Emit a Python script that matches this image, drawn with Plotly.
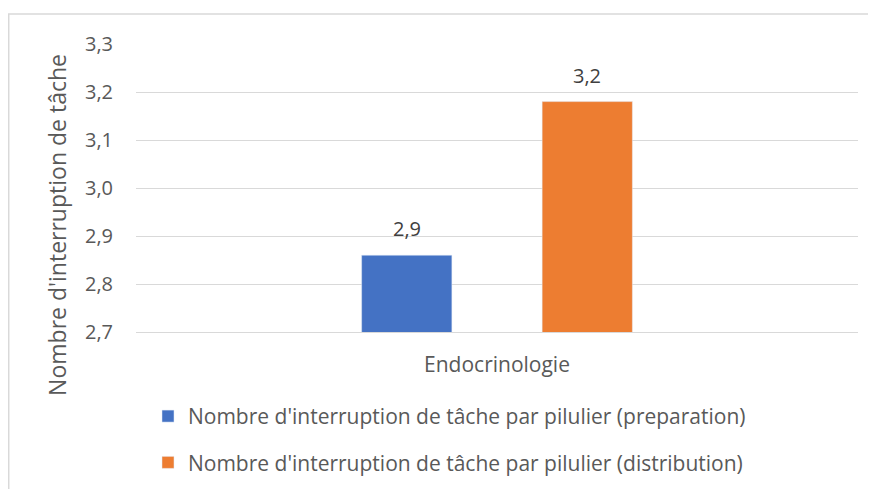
import plotly.graph_objects as go

categories = ["Endocrinologie"]
series_names = [
    "Nombre d'interruption de tâche par pilulier (preparation)",
    "Nombre d'interruption de tâche par pilulier (distribution)",
]
series_values = [[2.86], [3.18]]
series_colors = ["#4472C4", "#ED7D31"]
y_ticks = [2.7, 2.8, 2.9, 3.0, 3.1, 3.2, 3.3]
y_title = "Nombre d'interruption de tâche"

FONT = "Open Sans"
TXT = "#595959"
BARGAP = 0.5
PLOT_W = 722

fig = go.Figure()
for i, (name, vals, col) in enumerate(zip(series_names, series_values, series_colors)):
    fig.add_trace(go.Bar(
        x=categories, y=vals, name=name, marker_color=col,
        legendgroup=f"g{i}",
    ))
    # data labels above bars
    slot = PLOT_W * (1 - BARGAP) / len(series_names)
    for c, v in zip(categories, vals):
        fig.add_annotation(
            x=c, y=v, text=f"{v:.1f}".replace(".", ","), showarrow=False,
            xshift=(i - (len(series_names) - 1) / 2) * slot,
            yanchor="bottom", yshift=11,
            font=dict(family=FONT, size=20, color="#404040"),
        )

# y-axis title (placed like the original, lower than the plot centre)
fig.add_annotation(
    text=y_title, xref="paper", yref="paper", x=-0.1094, y=0.372,
    xanchor="center", yanchor="middle", textangle=-90, showarrow=False,
    font=dict(family=FONT, size=23, color=TXT),
)

fig.update_layout(
    width=876, height=489,
    margin=dict(l=128, r=26, t=36, b=165),
    paper_bgcolor="white", plot_bgcolor="white",
    separators=",.",
    barmode="group", bargap=BARGAP, bargroupgap=0.5,
    font=dict(family=FONT, size=20, color=TXT),
    showlegend=True,
    legend=dict(
        orientation="v", x=0.0166, y=-0.222, xanchor="left", yanchor="top",
        font=dict(family=FONT, size=21, color=TXT),
        traceorder="grouped", tracegroupgap=16, itemwidth=30,
        bgcolor="rgba(0,0,0,0)",
    ),
    shapes=[dict(type="rect", xref="paper", yref="paper",
                 x0=-0.1763, x1=1.2, y0=-1.0, y1=1.104,
                 line=dict(color="#d9d9d9", width=1.5), layer="below")],
)
fig.update_yaxes(
    range=[2.7, 3.3], tickvals=y_ticks, tickformat=".1f",
    showgrid=True, gridcolor="#d9d9d9", gridwidth=1,
    zeroline=False, showline=False,
    ticks="", ticklabelstandoff=22,
    tickfont=dict(family=FONT, size=20, color=TXT),
)
fig.update_xaxes(
    showline=True, linecolor="#d9d9d9", linewidth=1,
    ticks="", ticklabelstandoff=14,
    tickfont=dict(family=FONT, size=21, color=TXT),
)

fig.write_html("out.html")
